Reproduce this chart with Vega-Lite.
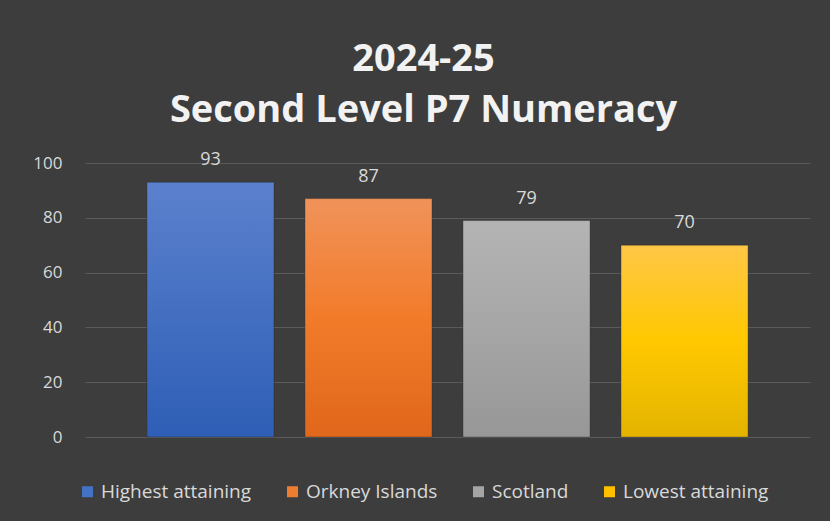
{
  "$schema": "https://vega.github.io/schema/vega-lite/v6.json",
  "autosize": {"type": "none"},
  "width": 725,
  "height": 274,
  "padding": {"left": 85, "top": 163, "right": 20, "bottom": 84},
  "background": "#3d3d3d",
  "config": {
    "view": {"stroke": null},
    "font": "Open Sans"
  },
  "title": {
    "text": ["2024-25", "Second Level P7 Numeracy"],
    "color": "#f2f2f2",
    "fontSize": 38,
    "fontWeight": "bold",
    "font": "Open Sans",
    "lineHeight": 51,
    "anchor": "middle",
    "frame": "group",
    "dx": -24,
    "offset": 21
  },
  "data": {
    "values": [
      {"series": "Highest attaining", "value": 93},
      {"series": "Orkney Islands", "value": 87},
      {"series": "Scotland", "value": 79},
      {"series": "Lowest attaining", "value": 70}
    ]
  },
  "encoding": {
    "x": {
      "field": "series",
      "type": "nominal",
      "sort": ["Highest attaining", "Orkney Islands", "Scotland", "Lowest attaining"],
      "scale": {"paddingInner": 0.196, "paddingOuter": 0.392},
      "axis": null
    },
    "y": {
      "field": "value",
      "type": "quantitative",
      "scale": {"domain": [0, 100]},
      "axis": {
        "values": [0, 20, 40, 60, 80, 100],
        "title": null,
        "domain": false,
        "ticks": false,
        "labelColor": "#d9d9d9",
        "labelFontSize": 17,
        "labelPadding": 23,
        "gridColor": "#5a5a5a",
        "gridWidth": 1
      }
    }
  },
  "layer": [
    {
      "mark": {"type": "bar", "opacity": 0},
      "encoding": {
        "color": {
          "field": "series",
          "type": "nominal",
          "scale": {
            "domain": ["Highest attaining", "Orkney Islands", "Scotland", "Lowest attaining"],
            "range": ["#4472c4", "#ed7d31", "#a5a5a5", "#ffc000"]
          },
          "legend": {
            "title": null,
            "orient": "none",
            "legendX": -7,
            "legendY": 319,
            "direction": "horizontal",
            "columns": 4,
            "columnPadding": 31,
            "symbolType": "square",
            "symbolSize": 121,
            "symbolStrokeWidth": 0,
            "symbolOpacity": 1,
            "labelColor": "#d9d9d9",
            "labelFontSize": 19,
            "labelOffset": 4,
            "labelLimit": 300
          }
        }
      }
    },
    {
      "mark": {"type": "bar", "strokeWidth": 1, "strokeOpacity": 0.35, "stroke": "#222222"},
      "encoding": {
        "fill": {
          "condition": [
            {"test": "datum.series === 'Highest attaining'", "value": {"gradient": "linear", "x1": 0, "y1": 0, "x2": 0, "y2": 1, "stops": [{"offset": 0, "color": "#5b81cd"}, {"offset": 1, "color": "#2e5eb6"}]}},
            {"test": "datum.series === 'Orkney Islands'", "value": {"gradient": "linear", "x1": 0, "y1": 0, "x2": 0, "y2": 1, "stops": [{"offset": 0, "color": "#f0935a"}, {"offset": 0.5, "color": "#f27b2a"}, {"offset": 1, "color": "#e0671b"}]}},
            {"test": "datum.series === 'Scotland'", "value": {"gradient": "linear", "x1": 0, "y1": 0, "x2": 0, "y2": 1, "stops": [{"offset": 0, "color": "#b4b4b4"}, {"offset": 0.5, "color": "#a6a6a6"}, {"offset": 1, "color": "#979797"}]}}
          ],
          "value": {"gradient": "linear", "x1": 0, "y1": 0, "x2": 0, "y2": 1, "stops": [{"offset": 0, "color": "#ffc746"}, {"offset": 0.5, "color": "#ffc800"}, {"offset": 1, "color": "#e3b300"}]}
        }
      }
    },
    {
      "mark": {"type": "text", "dy": -13, "baseline": "bottom", "color": "#d9d9d9", "fontSize": 18},
      "encoding": {
        "text": {"field": "value", "type": "quantitative"}
      }
    }
  ]
}
